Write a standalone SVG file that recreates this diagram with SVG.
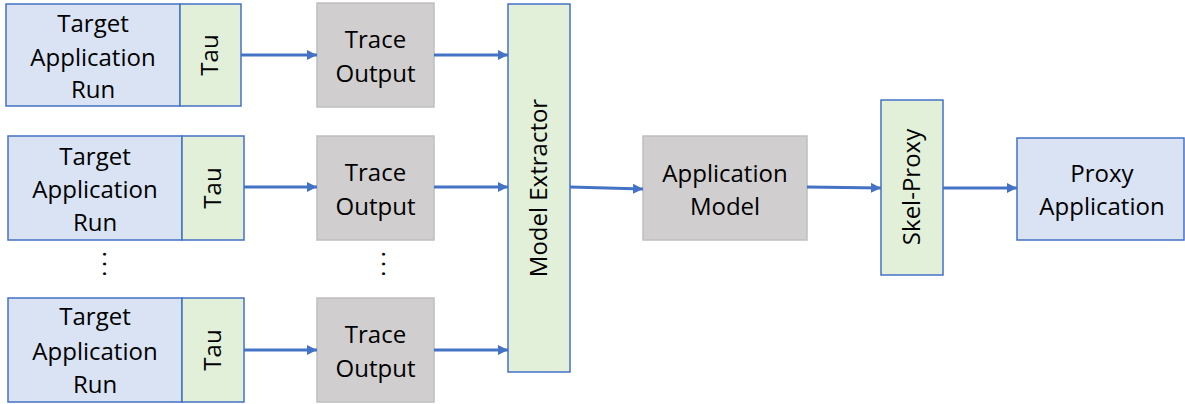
<svg xmlns="http://www.w3.org/2000/svg" width="1185" height="404" viewBox="0 0 1185 404">
<defs>
<marker id="ah" viewBox="0 0 10 10" refX="10" refY="5" markerWidth="10" markerHeight="10" markerUnits="userSpaceOnUse" orient="auto">
<path d="M0,0 L10,5 L0,10 z" fill="#4472C4"/>
</marker>
</defs>
<style>
.blue{fill:#DAE3F3;stroke:#4472C4;stroke-width:1.5}
.green{fill:#E2F0D9;stroke:#4472C4;stroke-width:1.5}
.gray{fill:#D0CECE;stroke:#BFBFBF;stroke-width:1.5}
text{font-family:"Open Sans","Liberation Sans",sans-serif;font-size:24px;fill:#000;text-anchor:middle}
.dots{letter-spacing:3.5px;text-anchor:start}
.conn line{stroke:#4472C4;stroke-width:3;marker-end:url(#ah)}
</style>
<rect width="1185" height="404" fill="#fff"/>

<g id="target1"><rect class="blue" x="6" y="4" width="174" height="102"/>
<text x="93" y="32">Target</text><text x="93" y="66">Application</text><text x="93" y="98">Run</text></g>
<g id="tau1"><rect class="green" x="180" y="4" width="61" height="102"/>
<text transform="translate(218,55) rotate(-90)">Tau</text></g>
<g id="trace1"><rect class="gray" x="317" y="3" width="117" height="104"/>
<text x="375.5" y="48">Trace</text><text x="375.5" y="82">Output</text></g>

<g id="target2"><rect class="blue" x="8" y="136" width="174" height="104"/>
<text x="95" y="165">Target</text><text x="95" y="198">Application</text><text x="95" y="231">Run</text></g>
<g id="tau2"><rect class="green" x="182" y="136" width="62" height="104"/>
<text transform="translate(221,188) rotate(-90)">Tau</text></g>
<g id="trace2"><rect class="gray" x="317" y="136" width="117" height="104"/>
<text x="375.5" y="181">Trace</text><text x="375.5" y="215">Output</text></g>

<g id="dots1"><text class="dots" transform="translate(103,251) rotate(90)">...</text></g>
<g id="dots2"><text class="dots" transform="translate(382,251) rotate(90)">...</text></g>

<g id="target3"><rect class="blue" x="8" y="298" width="174" height="104"/>
<text x="95" y="325">Target</text><text x="95" y="360">Application</text><text x="95" y="393">Run</text></g>
<g id="tau3"><rect class="green" x="182" y="298" width="62" height="104"/>
<text transform="translate(221,350) rotate(-90)">Tau</text></g>
<g id="trace3"><rect class="gray" x="317" y="298" width="117" height="104"/>
<text x="375.5" y="343">Trace</text><text x="375.5" y="377">Output</text></g>

<g id="extractor"><rect class="green" x="508" y="4" width="62" height="368"/>
<text transform="translate(547,188) rotate(-90)">Model Extractor</text></g>

<g id="appmodel"><rect class="gray" x="643" y="136" width="164" height="104"/>
<text x="725" y="182">Application</text><text x="725" y="215">Model</text></g>

<g id="skel"><rect class="green" x="881" y="100" width="62" height="175"/>
<text transform="translate(920,187) rotate(-90)">Skel-Proxy</text></g>

<g id="proxy"><rect class="blue" x="1017" y="138" width="167" height="102"/>
<text x="1102" y="182">Proxy</text><text x="1102" y="215">Application</text></g>

<g class="conn" id="connectors">
<line x1="241" y1="55" x2="317" y2="55"/>
<line x1="434" y1="55" x2="508" y2="55"/>
<line x1="244" y1="187" x2="317" y2="187"/>
<line x1="434" y1="187" x2="508" y2="187"/>
<line x1="244" y1="350" x2="317" y2="350"/>
<line x1="434" y1="350" x2="508" y2="350"/>
<line x1="570" y1="187" x2="643" y2="189"/>
<line x1="807" y1="187" x2="881" y2="188"/>
<line x1="943" y1="188" x2="1017" y2="188"/>
</g>
</svg>
